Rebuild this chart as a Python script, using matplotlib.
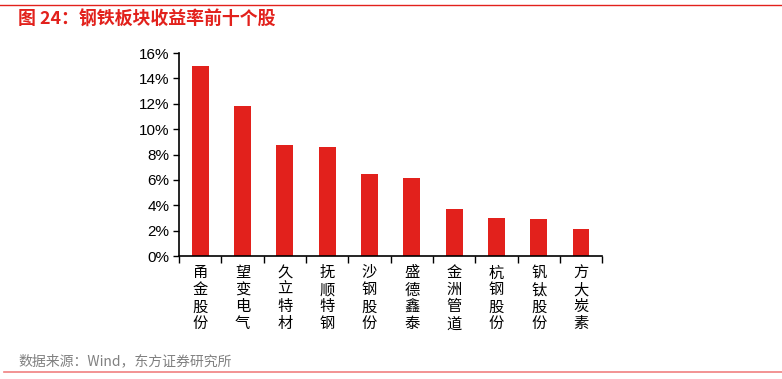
import matplotlib.pyplot as plt
from matplotlib.ticker import FuncFormatter, FixedLocator
from matplotlib.lines import Line2D

plt.rcParams['font.family'] = ['Liberation Sans', 'Noto Sans CJK SC', 'DejaVu Sans']

# top ten steel stocks by return
names = ['甬金股份', '望变电气', '久立特材', '抚顺特钢', '沙钢股份',
         '盛德鑫泰', '金洲管道', '杭钢股份', '钒钛股份', '方大炭素']
returns = [0.150, 0.118, 0.0875, 0.086, 0.0645, 0.0615, 0.037, 0.030, 0.029, 0.021]

red = '#E2211C'

fig = plt.figure(figsize=(7.82, 3.79), dpi=100)
ax = fig.add_axes([0.229, 0.3245, 0.541, 0.5355])

x = range(len(names))
ax.bar(x, returns, width=0.4, color=red)

ax.set_xlim(-0.5, len(names) - 0.5)
ax.set_ylim(0, 0.16)
ax.set_yticks([i * 0.02 for i in range(9)])
ax.yaxis.set_major_formatter(FuncFormatter(lambda v, p: f'{v*100:.0f}%'))

# category labels written top to bottom
ax.set_xticks(list(x))
ax.set_xticklabels(['\n'.join(n) for n in names], fontsize=11,
                   family=['Noto Sans CJK SC'], linespacing=1.0, va='top')
ax.tick_params(axis='x', length=0, pad=6)
ax.xaxis.set_minor_locator(FixedLocator([i - 0.5 for i in range(len(names) + 1)]))
ax.tick_params(axis='x', which='minor', length=5, width=1, direction='out')
ax.tick_params(axis='y', length=4, width=1, labelsize=11, pad=3)

for s in ['top', 'right']:
    ax.spines[s].set_visible(False)
for s in ['left', 'bottom']:
    ax.spines[s].set_linewidth(1.2)

# header / footer
fig.add_artist(Line2D([0, 1], [1 - 5/379, 1 - 5/379], color=red, lw=1))
fig.text(18/782, 1 - 20/379, '图 24：钢铁板块收益率前十个股', color=red, fontsize=12.9,
         fontweight='bold', va='center', family=['Noto Sans CJK SC'])
fig.text(18/782, 1 - 361/379, '数据来源：Wind，东方证券研究所', color='#808080', fontsize=10,
         va='center', family=['Noto Sans CJK SC'])
fig.add_artist(Line2D([0.005, 1], [1 - 372/379, 1 - 372/379], color='#F08080', lw=1.2))

fig.savefig('out.png', dpi=100)
